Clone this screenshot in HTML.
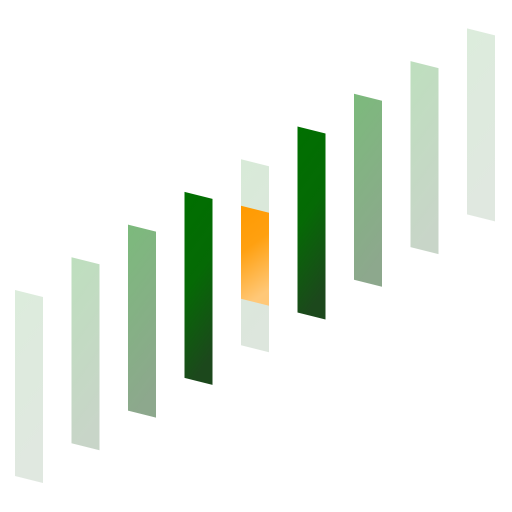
<!DOCTYPE html>
<html><head><meta charset="utf-8"><style>
html,body{margin:0;padding:0;background:#fff;width:512px;height:512px;overflow:hidden}
</style></head><body>
<svg id="chart" width="512" height="512" viewBox="0 0 512 512" xmlns="http://www.w3.org/2000/svg">
<defs>
<linearGradient id="g0" x1="0" y1="0" x2="0.2" y2="1"><stop offset="0" stop-color="#dcecdc"/><stop offset="1" stop-color="#e0e8e0"/></linearGradient>
<linearGradient id="g1" x1="0" y1="0" x2="0.2" y2="1"><stop offset="0" stop-color="#bedfbe"/><stop offset="1" stop-color="#c8d5c8"/></linearGradient>
<linearGradient id="g2" x1="0" y1="0" x2="0.2" y2="1"><stop offset="0" stop-color="#7cba7c"/><stop offset="1" stop-color="#8da88d"/></linearGradient>
<linearGradient id="g3" x1="0" y1="0" x2="0.2" y2="1"><stop offset="0" stop-color="#007000"/><stop offset="0.5" stop-color="#056a05"/><stop offset="1" stop-color="#1c481c"/></linearGradient>
<linearGradient id="g4" x1="0" y1="0" x2="0.2" y2="1"><stop offset="0" stop-color="#d8ead8"/><stop offset="1" stop-color="#dde6dd"/></linearGradient>
<linearGradient id="go" x1="0" y1="0" x2="0.2" y2="1"><stop offset="0" stop-color="#ff9a00"/><stop offset="0.45" stop-color="#ffa010"/><stop offset="1" stop-color="#ffc878"/></linearGradient>
</defs>
<g id="bars"></g>
</svg>
<script>
const categories = ["c1","c2","c3","c4","c5","c6","c7","c8","c9"];
const intensity = [0, 1, 2, 3, 4, 3, 2, 1, 0];
const highlightStart = [null, null, null, null, 0.25, null, null, null, null];
const highlightEnd = [null, null, null, null, 0.75, null, null, null, null];

const x0 = 15, dx = 56.5, top0 = 290, dTop = -32.7, barW = 28, skew = 7, barH = 186;
const g = document.getElementById('bars');
const NS = 'http://www.w3.org/2000/svg';
function poly(x, yTop, h, fill, name) {
  const p = document.createElementNS(NS, 'polygon');
  p.setAttribute('points', `${x},${yTop} ${x+barW},${yTop+skew} ${x+barW},${yTop+skew+h} ${x},${yTop+h}`);
  p.setAttribute('fill', fill);
  
  
  g.appendChild(p);
}
categories.forEach((c, i) => {
  const x = x0 + i * dx;
  const yTop = top0 + i * dTop;
  poly(x, yTop, barH, 'url(#g' + intensity[i] + ')', 'bar-' + c);
  if (highlightStart[i] !== null) {
    const hs = yTop + highlightStart[i] * barH;
    const hh = (highlightEnd[i] - highlightStart[i]) * barH;
    poly(x, hs, hh, 'url(#go)', 'highlight-' + c);
  }
});
</script>
</body></html>
